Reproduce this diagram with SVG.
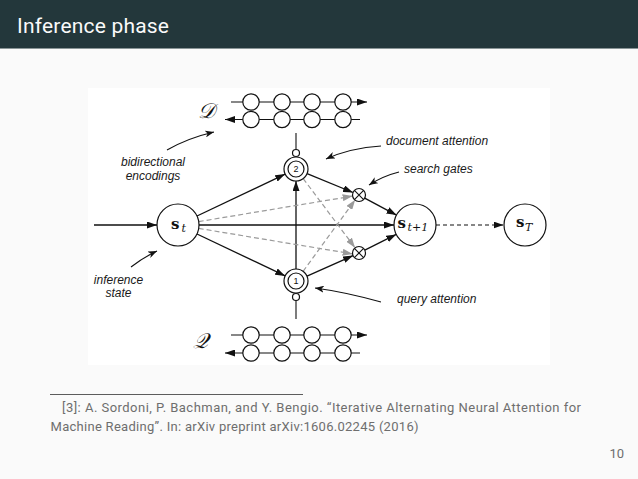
<svg xmlns="http://www.w3.org/2000/svg" width="638" height="479" viewBox="0 0 638 479">
  <style>
    .edge { fill: none; stroke: #111; stroke-width: 1.3; }
    .gray { fill: none; stroke: #9a9a9a; stroke-width: 1.2; stroke-dasharray: 5 3; }
    .dash { fill: none; stroke: #111; stroke-width: 1.2; stroke-dasharray: 4 3; }
    .note { fill: none; stroke: #111; stroke-width: 1.1; }
    .node { fill: #fff; stroke: #111; stroke-width: 1.2; }
    .thin { fill: none; stroke: #111; stroke-width: 1.1; }
    .lbl { font-family: "Liberation Sans", Arial, sans-serif; font-style: italic; font-size: 12px; fill: #1a1a1a; }
    .num { font-family: "Liberation Sans", Arial, sans-serif; font-size: 9px; fill: #111; }
    .mb { font-family: "DejaVu Serif", "Liberation Serif", serif; font-weight: bold; font-size: 15px; fill: #111; }
    .mi { font-family: "DejaVu Serif", "Liberation Serif", serif; font-style: italic; font-size: 11px; fill: #111; }
    .cal { font-family: "DejaVu Serif", "Liberation Serif", serif; font-style: italic; font-size: 21px; fill: #111; }
    .foot { font-family: Roboto, "Open Sans", sans-serif; font-size: 13px; fill: #6e6e6e; }
  </style>
  <defs>
    <marker id="ah" viewBox="0 0 10 7" markerWidth="10" markerHeight="7" refX="10" refY="3.5" orient="auto" markerUnits="userSpaceOnUse">
      <path d="M0,0 L10,3.5 L0,7 z" fill="#111"/>
    </marker>
    <marker id="ahg" viewBox="0 0 10 7" markerWidth="10" markerHeight="7" refX="10" refY="3.5" orient="auto" markerUnits="userSpaceOnUse">
      <path d="M0,0 L10,3.5 L0,7 z" fill="#9a9a9a"/>
    </marker>
    <marker id="ahn" viewBox="0 0 9 7" markerWidth="9" markerHeight="7" refX="9" refY="3.5" orient="auto" markerUnits="userSpaceOnUse">
      <path d="M0,0 L9,3.5 L0,7 L2.5,3.5 z" fill="#111"/>
    </marker>
  </defs>

  <rect x="0" y="0" width="638" height="479" fill="#fafafa"/>
  <g id="header">
    <rect x="0" y="0" width="638" height="48" fill="#23373b"/>
    <line x1="0" y1="48.5" x2="638" y2="48.5" stroke="#8a9597" stroke-width="1"/>
    <text x="17" y="33" font-family="Roboto, 'Open Sans', sans-serif" font-size="21" fill="#fafafa" textLength="152">Inference phase</text>
  </g>

  <rect id="figure-bg" x="88" y="88" width="462" height="277" fill="#ffffff"/>

  <g id="connectors">
    <line class="edge" x1="94" y1="225" x2="157" y2="225" marker-end="url(#ah)"/>
    <line class="edge" x1="199" y1="225" x2="394" y2="225" marker-end="url(#ah)"/>
    <line class="edge" x1="197" y1="216" x2="285.2" y2="174.1" marker-end="url(#ah)"/>
    <line class="edge" x1="197" y1="234" x2="285.2" y2="275.9" marker-end="url(#ah)"/>
    <line class="edge" x1="296" y1="269" x2="296" y2="181" marker-end="url(#ah)"/>
    <line class="edge" x1="307.1" y1="173.6" x2="353" y2="192.5" marker-end="url(#ah)"/>
    <line class="edge" x1="307" y1="276.1" x2="353.1" y2="255.6" marker-end="url(#ah)"/>
    <line class="edge" x1="364.7" y1="198.1" x2="396.5" y2="215.1" marker-end="url(#ah)"/>
    <line class="edge" x1="364.8" y1="250.1" x2="396.2" y2="234.4" marker-end="url(#ah)"/>
    <line class="gray" x1="198.7" y1="221.6" x2="352.6" y2="196.1" marker-end="url(#ahg)"/>
    <line class="gray" x1="198.7" y1="228.4" x2="352.6" y2="253.9" marker-end="url(#ahg)"/>
    <line class="gray" x1="303.2" y1="178.6" x2="355.1" y2="247.8" marker-end="url(#ahg)"/>
    <line class="gray" x1="303.1" y1="271.3" x2="355.2" y2="199.8" marker-end="url(#ahg)"/>
    <line class="dash" x1="436" y1="225" x2="503.5" y2="225" marker-end="url(#ah)"/>
    <line class="thin" x1="296" y1="133" x2="296" y2="149.5"/>
    <line class="thin" x1="296" y1="300.5" x2="296" y2="319"/>
  </g>

  <g id="node-st">
    <circle class="node" cx="178" cy="225" r="21"/>
    <text class="mb" x="171" y="228.5">s</text>
    <text class="mi" x="181.5" y="232">t</text>
  </g>
  <g id="node-st1">
    <circle class="node" cx="415" cy="225" r="21"/>
    <text class="mb" x="397.5" y="228">s</text>
    <text class="mi" x="407.5" y="231">t+1</text>
  </g>
  <g id="node-sT">
    <circle class="node" cx="525" cy="225" r="21"/>
    <text class="mb" x="516" y="227">s</text>
    <text class="mi" x="525" y="230.5">T</text>
  </g>
  <g id="node-doc-attention">
    <circle class="node" cx="296" cy="169" r="12"/>
    <circle class="node" cx="296" cy="169" r="8"/>
    <circle class="node" cx="296" cy="153" r="3.5"/>
    <text class="num" x="296" y="172.2" text-anchor="middle">2</text>
  </g>
  <g id="node-query-attention">
    <circle class="node" cx="296" cy="281" r="12"/>
    <circle class="node" cx="296" cy="281" r="8"/>
    <circle class="node" cx="296" cy="297" r="3.5"/>
    <text class="num" x="296" y="284.2" text-anchor="middle">1</text>
  </g>
  <g id="gate-upper">
    <circle class="node" cx="359" cy="195" r="6.5"/>
    <path class="thin" d="M354.4,190.4 L363.6,199.6 M363.6,190.4 L354.4,199.6"/>
  </g>
  <g id="gate-lower">
    <circle class="node" cx="359" cy="253" r="6.5"/>
    <path class="thin" d="M354.4,248.4 L363.6,257.6 M363.6,248.4 L354.4,257.6"/>
  </g>

  <g id="encoder-D">
    <line class="thin" x1="231" y1="102" x2="367" y2="102" marker-end="url(#ah)"/>
    <line class="thin" x1="360" y1="119.5" x2="225" y2="119.5" marker-end="url(#ah)"/>
    <circle class="node" cx="251" cy="102" r="8.2"/>
    <circle class="node" cx="282" cy="102" r="8.2"/>
    <circle class="node" cx="312" cy="102" r="8.2"/>
    <circle class="node" cx="343" cy="102" r="8.2"/>
    <circle class="node" cx="251" cy="119.5" r="8.2"/>
    <circle class="node" cx="282" cy="119.5" r="8.2"/>
    <circle class="node" cx="312" cy="119.5" r="8.2"/>
    <circle class="node" cx="343" cy="119.5" r="8.2"/>
    <text class="cal" x="198" y="118">𝒟</text>
  </g>
  <g id="encoder-Q">
    <line class="thin" x1="231" y1="335" x2="367" y2="335" marker-end="url(#ah)"/>
    <line class="thin" x1="360" y1="353" x2="225" y2="353" marker-end="url(#ah)"/>
    <circle class="node" cx="251" cy="335" r="8.2"/>
    <circle class="node" cx="282" cy="335" r="8.2"/>
    <circle class="node" cx="312" cy="335" r="8.2"/>
    <circle class="node" cx="343" cy="335" r="8.2"/>
    <circle class="node" cx="251" cy="353" r="8.2"/>
    <circle class="node" cx="282" cy="353" r="8.2"/>
    <circle class="node" cx="312" cy="353" r="8.2"/>
    <circle class="node" cx="343" cy="353" r="8.2"/>
    <text class="cal" x="193" y="348">𝒬</text>
  </g>

  <g id="annotations">
    <path class="note" d="M167,150 Q188,138 214,132" marker-end="url(#ahn)"/>
    <path class="note" d="M381,146 Q350,148 326,159" marker-end="url(#ahn)"/>
    <path class="note" d="M399,172 Q383,176 369,185" marker-end="url(#ahn)"/>
    <path class="note" d="M131,267 Q144,257 157,251" marker-end="url(#ahn)"/>
    <path class="note" d="M381,302 Q345,292 315,288" marker-end="url(#ahn)"/>
    <text class="lbl" x="153" y="166" text-anchor="middle">bidirectional</text>
    <text class="lbl" x="153" y="179.5" text-anchor="middle">encodings</text>
    <text class="lbl" x="386" y="145">document attention</text>
    <text class="lbl" x="404" y="172.5">search gates</text>
    <text class="lbl" x="118.5" y="284" text-anchor="middle">inference</text>
    <text class="lbl" x="118.5" y="297" text-anchor="middle">state</text>
    <text class="lbl" x="397" y="303">query attention</text>
  </g>

  <g id="footnote">
    <line x1="50" y1="394.5" x2="303" y2="394.5" stroke="#333" stroke-width="0.8"/>
    <text class="foot" x="62" y="411.5" textLength="519">[3]: A. Sordoni, P. Bachman, and Y. Bengio. “Iterative Alternating Neural Attention for</text>
    <text class="foot" x="50.5" y="430.5" textLength="368">Machine Reading”. In: arXiv preprint arXiv:1606.02245 (2016)</text>
    <text class="foot" x="624" y="458" font-size="11" text-anchor="end">10</text>
  </g>
</svg>
